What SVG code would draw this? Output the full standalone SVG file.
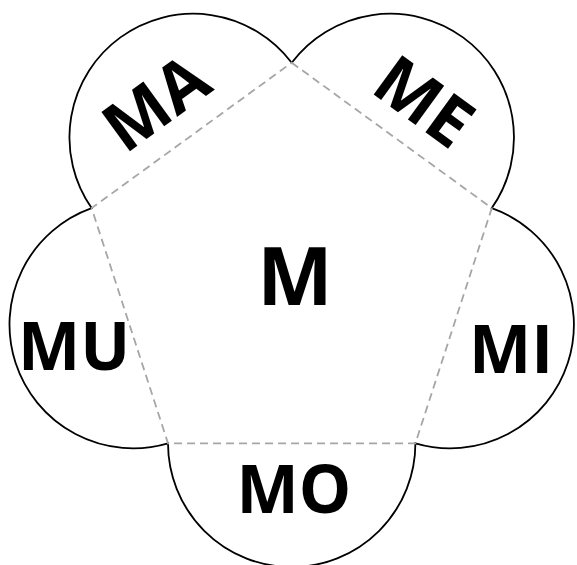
<svg xmlns="http://www.w3.org/2000/svg" width="577" height="565" viewBox="0 0 577 565">
<style>
.t{font-family:"Open Sans","Liberation Sans",sans-serif;font-weight:bold;fill:#000;text-anchor:middle}
.out{fill:#fff;stroke:#000;stroke-width:1.8}
.dash{fill:none;stroke:#a6a6a6;stroke-width:1.8;stroke-dasharray:8 5}
</style>
<rect width="577" height="565" fill="#fff"/>
<g id="outline">
<path class="out" d="M291.7,62.7 A123.7,123.7 0 0 1 491.8,208.1 A123.7,123.7 0 0 1 415.4,443.3 A123.7,123.7 0 0 1 168,443.3 A123.7,123.7 0 0 1 91.6,208.1 A123.7,123.7 0 0 1 291.7,62.7 Z"/>
</g>
<g id="connectors">
<path class="dash" d="M291.7,62.7 L491.8,208.1 L415.4,443.3 L168,443.3 L91.6,208.1 Z"/>
</g>
<g id="node-M"><text class="t" x="295" y="305" font-size="80">M</text></g>
<g id="node-MA"><text class="t" font-size="68" transform="translate(170,122) rotate(-36)">MA</text></g>
<g id="node-ME"><text class="t" font-size="68" transform="translate(410,121) rotate(36)">ME</text></g>
<g id="node-MI"><text class="t" x="511" y="373" font-size="66">MI</text></g>
<g id="node-MO"><text class="t" x="294" y="513" font-size="66">MO</text></g>
<g id="node-MU"><text class="t" x="74" y="370" font-size="66">MU</text></g>
</svg>
